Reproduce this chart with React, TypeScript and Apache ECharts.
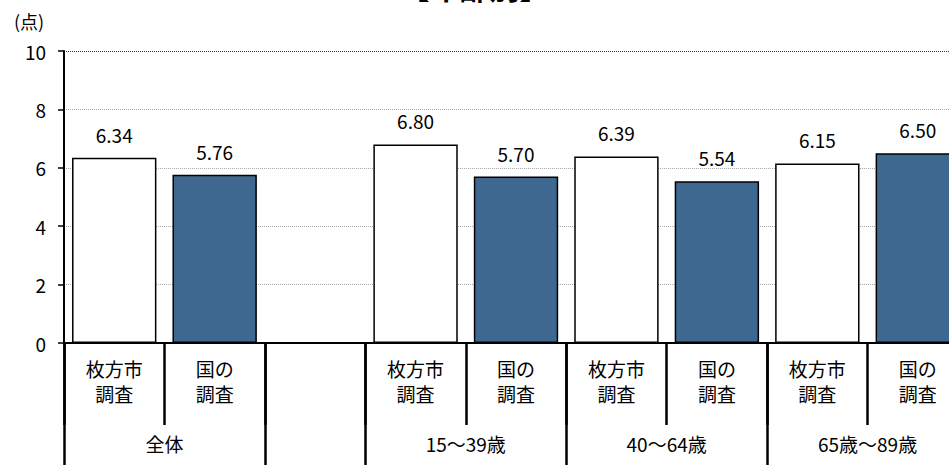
import React, { useEffect, useRef } from "react";
import * as echarts from "echarts";

const categories = ["枚方市\n調査", "国の\n調査", "", "枚方市\n調査", "国の\n調査", "枚方市\n調査", "国の\n調査", "枚方市\n調査", "国の\n調査"];
const values: (number | null)[] = [6.34, 5.76, null, 6.8, 5.7, 6.39, 5.54, 6.15, 6.5];
const isNational = [false, true, false, false, true, false, true, false, true];
const groupNames = ["全体", "15～39歳", "40～64歳", "65歳～89歳"];
const groupCenters = [1, 4, 6, 8];
const groupBounds = [0, 2, 3, 5, 7, 9];
const yTicks = { min: 0, max: 10, interval: 2 };
const titleText = "【年齢別】";
const unitText = "(点)";

const FONT = "'Noto Sans CJK JP', 'Noto Sans', sans-serif";

export default function App() {
  const ref = useRef<HTMLDivElement>(null);
  useEffect(() => {
    if (!ref.current) return;
    const chart = echarts.init(ref.current, undefined, { renderer: "svg" });
    chart.setOption({
      animation: false,
      backgroundColor: "#ffffff",
      textStyle: { fontFamily: FONT },
      title: {
        text: titleText,
        left: "center",
        top: -34,
        textStyle: { fontSize: 30, fontWeight: "bold", color: "#000", fontFamily: FONT },
      },
      graphic: [
        {
          type: "text",
          left: 14,
          top: 12,
          style: { text: unitText, fontSize: 18, fill: "#000", fontFamily: FONT },
        },
      ],
      grid: { left: 64, right: -19, top: 51, bottom: 122, outerBoundsMode: "none", containLabel: false },
      xAxis: [
        {
          type: "category",
          position: "bottom",
          data: categories,
          boundaryGap: true,
          axisLine: { show: true, lineStyle: { color: "#000", width: 2 } },
          axisTick: { show: true, interval: 0, length: 82, lineStyle: { color: "#000", width: 2.5 } },
          axisLabel: { interval: 0, fontSize: 19, lineHeight: 25, color: "#000", margin: 13, fontFamily: FONT },
          splitLine: { show: false },
        },
        {
          type: "value",
          position: "bottom",
          min: 0,
          max: 9,
          interval: 1,
          axisLine: { show: false },
          axisTick: { show: true, customValues: groupBounds, length: 130, lineStyle: { color: "#000", width: 2.5 } },
          axisLabel: {
            customValues: groupCenters,
            fontSize: 19,
            color: "#000",
            margin: 91,
            fontFamily: FONT,
            formatter: (v: number) => {
              const i = groupCenters.indexOf(v);
              return i >= 0 ? groupNames[i] : "";
            },
          },
          splitLine: { show: false },
        },
      ],
      yAxis: {
        type: "value",
        min: yTicks.min,
        max: yTicks.max,
        interval: yTicks.interval,
        axisLine: { show: true, lineStyle: { color: "#000", width: 2 } },
        axisTick: { show: true, length: 6, lineStyle: { color: "#000", width: 1.5 } },
        axisLabel: { fontSize: 19, color: "#000", margin: 18, fontFamily: FONT },
        splitLine: {
          show: true,
          lineStyle: { type: "dotted", color: ["#aaaaaa", "#aaaaaa", "#aaaaaa", "#aaaaaa", "#aaaaaa", "#333333"], width: 1 },
        },
      },
      series: [
        {
          type: "bar",
          xAxisIndex: 0,
          yAxisIndex: 0,
          barCategoryGap: "16%",
          data: values.map((v, i) => ({
            value: v,
            itemStyle: {
              color: isNational[i] ? "#3e6890" : "#ffffff",
              borderColor: "#000",
              borderWidth: 1.5,
            },
          })),
          label: {
            show: true,
            position: "top",
            distance: 14,
            fontSize: 19,
            color: "#000",
            fontFamily: FONT,
            formatter: (p: any) => (p.value == null ? "" : Number(p.value).toFixed(2)),
          },
        },
      ],
    });
    return () => chart.dispose();
  }, []);
  return <div ref={ref} style={{ position: "fixed", left: 0, top: 0, width: 949, height: 465 }} />;
}
